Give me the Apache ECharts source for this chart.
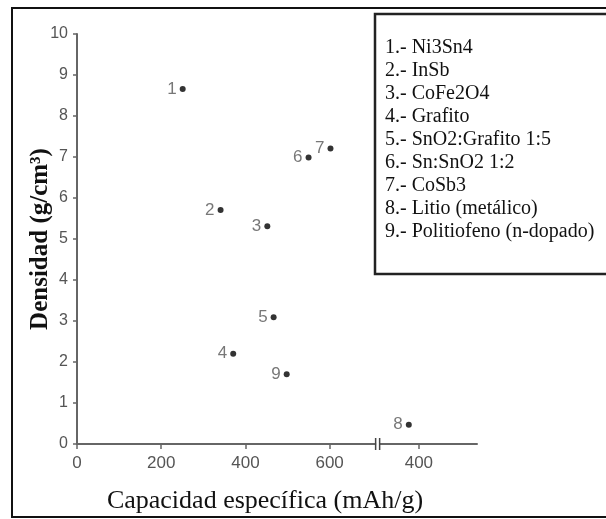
<!DOCTYPE html>
<html>
<head>
<meta charset="utf-8">
<script src="https://cdn.jsdelivr.net/npm/echarts@6/dist/echarts.min.js"></script>
<style>
  html, body { margin: 0; padding: 0; background: #fff; }
  #chart { width: 606px; height: 519px; }
</style>
</head>
<body>
<div id="chart"></div>
<script>
// datos
const pointIds = ['1', '2', '3', '4', '5', '6', '7', '8', '9'];
const materials = ['Ni3Sn4', 'InSb', 'CoFe2O4', 'Grafito', 'SnO2:Grafito 1:5', 'Sn:SnO2 1:2', 'CoSb3', 'Litio (metálico)', 'Politiofeno (n-dopado)'];
const capacity = [251, 341, 452, 371, 467, 550, 602, 788, 498];   // eje x (tramo tras el corte comprimido)
const density = [8.66, 5.71, 5.31, 2.2, 3.09, 6.99, 7.21, 0.47, 1.70];
const xTickValues = [0, 200, 400, 600, 812];
const xTickLabels = ['0', '200', '400', '600', '400'];
const xBreakAt = 714;

let chartDom = document.getElementById('chart');
let myChart = echarts.init(chartDom);

const axisColor = '#666';
const labelColor = '#555';

let legendText = materials.map((m, i) => `${pointIds[i]}.- ${m}`).join('\n');

let option = {
  animation: false,
  grid: {
    left: 77,
    top: 34,
    right: 129,
    bottom: 72,
    containLabel: false,
  },
  xAxis: {
    type: 'value',
    min: 0,
    max: 950,
    splitLine: { show: false },
    axisLine: { lineStyle: { color: axisColor, width: 2 } },
    axisTick: { customValues: xTickValues, length: 5, lineStyle: { color: axisColor, width: 1.5 } },
    axisLabel: {
      customValues: xTickValues,
      formatter: (v) => xTickLabels[xTickValues.indexOf(v)],
      color: labelColor,
      fontFamily: 'Liberation Sans',
      fontSize: 17,
      margin: 11,
    },
    name: 'Capacidad específica (mAh/g)',
    nameLocation: 'middle',
    nameGap: 44,
    nameMoveOverlap: false,
    nameTextStyle: {
      fontFamily: 'Liberation Serif',
      fontSize: 26,
      color: '#111',
      padding: [0, 24, 0, 0],
    },
  },
  yAxis: {
    type: 'value',
    min: 0,
    max: 10,
    interval: 1,
    splitLine: { show: false },
    axisLine: { show: true, lineStyle: { color: axisColor, width: 2 } },
    axisTick: { show: true, length: 4, lineStyle: { color: axisColor, width: 1.5 } },
    axisLabel: {
      color: labelColor,
      fontFamily: 'Liberation Sans',
      fontSize: 16,
      margin: 9,
    },
    name: 'Densidad (g/cm³)',
    nameLocation: 'middle',
    nameGap: 24,
    nameMoveOverlap: false,
    nameTextStyle: {
      fontFamily: 'Liberation Serif',
      fontSize: 25,
      fontWeight: 'bold',
      color: '#111',
    },
  },
  series: [
    {
      type: 'scatter',
      symbol: 'circle',
      symbolSize: 6,
      itemStyle: { color: '#000' },
      data: capacity.map((c, i) => [c, density[i], pointIds[i]]),
      label: {
        show: true,
        position: 'left',
        distance: 3,
        formatter: (p) => p.data[2],
        color: labelColor,
        fontFamily: 'Liberation Sans',
        fontSize: 17,
      },
    },
  ],
  graphic: [
    {
      id: 'frame',
      type: 'rect',
      shape: { x: 12, y: 8, width: 620, height: 509 },
      style: { fill: 'none', stroke: '#111', lineWidth: 2 },
      z: 10,
    },
    {
      id: 'legendBox',
      type: 'rect',
      shape: { x: 375, y: 14, width: 260, height: 260 },
      style: { fill: '#fff', stroke: '#222', lineWidth: 2.5 },
      z: 10,
    },
    {
      id: 'legendText',
      type: 'text',
      x: 385,
      y: 36,
      style: {
        text: legendText,
        fontFamily: 'Liberation Serif',
        fontSize: 20,
        lineHeight: 23,
        fill: '#111',
      },
      z: 11,
    },
  ],
};

myChart.setOption(option);

// marca de corte del eje x
let bp = myChart.convertToPixel({ xAxisIndex: 0, yAxisIndex: 0 }, [xBreakAt, 0]);
myChart.setOption({
  graphic: [
    {
      id: 'breakGap',
      type: 'rect',
      shape: { x: bp[0] - 1.5, y: bp[1] - 2, width: 3, height: 4 },
      style: { fill: '#fff' },
      z: 12,
    },
    {
      id: 'breakL',
      type: 'line',
      shape: { x1: bp[0] - 2, y1: bp[1] - 6, x2: bp[0] - 2, y2: bp[1] + 6 },
      style: { stroke: '#444', lineWidth: 1.5 },
      z: 13,
    },
    {
      id: 'breakR',
      type: 'line',
      shape: { x1: bp[0] + 2, y1: bp[1] - 6, x2: bp[0] + 2, y2: bp[1] + 6 },
      style: { stroke: '#444', lineWidth: 1.5 },
      z: 13,
    },
  ],
});
</script>
</body>
</html>
